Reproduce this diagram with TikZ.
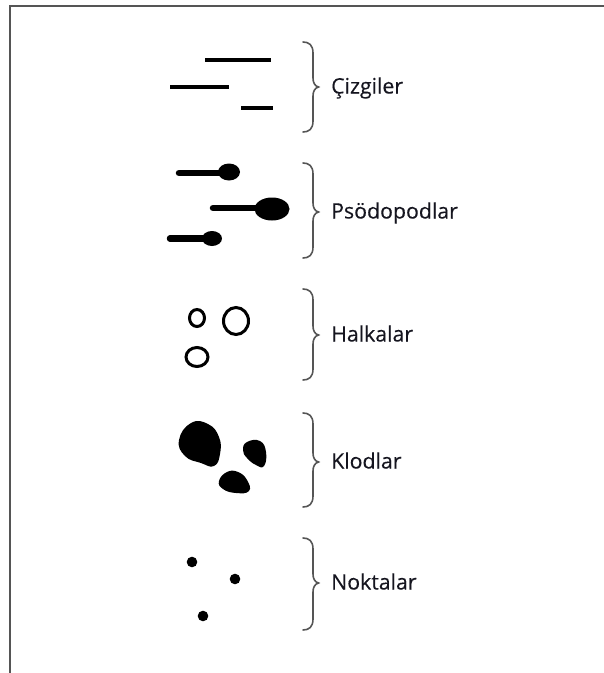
\documentclass[tikz,border=0pt]{standalone}
\usepackage{fontspec}
\setmainfont{Open Sans}
\newfontfamily\labfont[FakeBold=0.25]{Open Sans}
\definecolor{framegray}{HTML}{555555}
\definecolor{bracegray}{HTML}{555555}
\definecolor{labelcol}{HTML}{15151F}
\tikzset{
  frameline/.style={draw=framegray, line width=2pt},
  bar/.style={draw=black, line width=4.6pt},
  stem/.style={draw=black, line width=6.5pt, line cap=round},
  blob/.style={fill=black, draw=none},
  ring/.style={draw=black, line width=3pt},
  bracket/.style={draw=bracegray, line width=1.6pt, line cap=round},
  lab/.style={anchor=base west, inner sep=0pt, text=labelcol, font=\labfont\fontsize{21.3}{25}\selectfont},
}
\newcommand{\curlybr}[3]{%
  \draw[bracket] (303,#1) .. controls (309,#1) and (313,#1+3) .. (313,#1+11)
    -- (313,#2-9) .. controls (313,#2-4) and (315,#2-1) .. (318.5,#2)
    .. controls (315,#2+1) and (313,#2+4) .. (313,#2+9)
    -- (313,#3-11) .. controls (313,#3-3) and (309,#3) .. (303,#3);}
\begin{document}
\begin{tikzpicture}[x=1pt,y=-1pt]
\useasboundingbox (0,0) rectangle (604,673);
% frame
\draw[frameline] (604,6) -- (10,6) -- (10,673);
% Cizgiler
\draw[bar] (205,60) -- (271,60);
\draw[bar] (170,87) -- (229,87);
\draw[bar] (241,108) -- (273,108);
\curlybr{42}{87}{132}
\node[lab] (l1) at (331,93.5) {Çizgiler};
% Psodopodlar
\draw[stem] (179,173) -- (222,173);
\fill[blob] (229,172) ellipse [x radius=11, y radius=8.5];
\draw[stem] (213,208) -- (258,208);
\fill[blob] (272,209) ellipse [x radius=17.5, y radius=11.5];
\draw[stem] (170,238.5) -- (205,238.5);
\fill[blob] (212,238.5) ellipse [x radius=10, y radius=7.5];
\curlybr{163}{212}{258}
\node[lab] (l2) at (331,218.5) {Psödopodlar};
% Halkalar
\draw[ring] (197,318) ellipse [x radius=7.5, y radius=8.5];
\draw[ring] (236,321) ellipse [x radius=12.5, y radius=13.5];
\draw[ring] (197,357) ellipse [x radius=11, y radius=9.5];
\curlybr{289}{335}{380}
\node[lab] (l3) at (331,341.5) {Halkalar};
% Klodlar
\fill[blob] plot[smooth cycle, tension=0.8] coordinates {(191,423) (208,424) (219,437) (220,454) (214,466) (201,463) (185,456) (179,440)};
\fill[blob] plot[smooth cycle, tension=0.8] coordinates {(247,442) (260,441) (266,452) (264,466) (256,465) (247,458) (243,450)};
\fill[blob] plot[smooth cycle, tension=0.8] coordinates {(227,472) (238,472) (247,480) (249,491) (236,493) (223,489) (219,481)};
\curlybr{413}{462}{507}
\node[lab] (l4) at (331,468.5) {Klodlar};
% Noktalar
\fill[blob] (192,562) circle [radius=5.3];
\fill[blob] (235,579) circle [radius=5.3];
\fill[blob] (203,616) circle [radius=5.3];
\curlybr{538}{583}{630}
\node[lab] (l5) at (331,589.5) {Noktalar};
\end{tikzpicture}
\end{document}
